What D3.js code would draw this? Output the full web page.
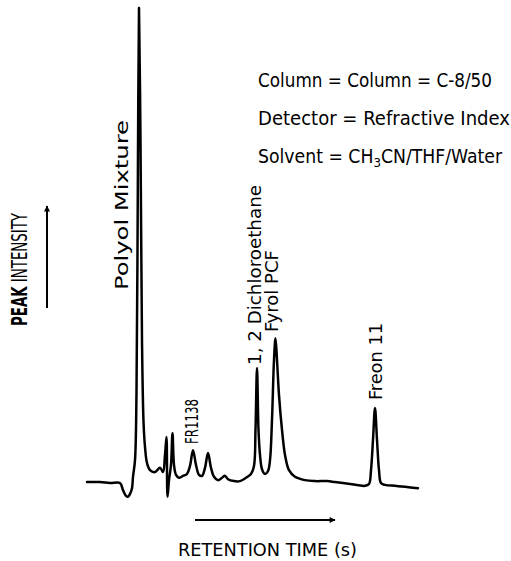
<!DOCTYPE html>
<html>
<head>
<meta charset="utf-8">
<script src="https://cdn.jsdelivr.net/npm/d3@7"></script>
<style>
  html, body { margin: 0; padding: 0; background: #fff; }
  svg { display: block; }
  text { font-family: "Liberation Sans Narrow", "DejaVu Sans Condensed", "Liberation Sans", sans-serif; fill: #000; }
</style>
</head>
<body>
<svg id="chart" width="511" height="561"></svg>
<script>
// Retention time (arbitrary units) and detector response (% of largest peak)
const times = [0, 1.3, 2.3, 3.3, 3.6, 3.9, 4.1, 4.3, 4.5, 4.6, 4.8, 4.95, 5.1, 5.2, 5.35, 5.5, 5.65, 5.8, 6.0, 6.3,
  6.8, 7.3, 7.6, 7.8, 7.95, 8.05, 8.2, 8.4, 8.55, 8.7, 8.9, 9.2, 9.6, 10.0, 10.3, 10.6, 10.9, 11.2, 11.5, 11.8,
  12.1, 12.4, 12.7, 13.1, 13.5, 13.8, 14.1, 14.7, 15.3, 15.9, 16.4, 16.7, 16.85, 17.0, 17.15, 17.3, 17.5, 17.8, 18.1, 18.3,
  18.5, 18.7, 18.85, 19.0, 19.2, 19.5, 19.8, 20.2, 20.8, 21.8, 22.8, 24.0, 24.8, 26.3, 27.8, 28.2, 28.4, 28.6, 28.8, 29.0,
  29.2, 29.4, 29.8, 30.8, 31.8, 33.1];
const intensity = [0.2, 0.2, 0, 0, -1.5, -2.7, -2.9, -2.3, -1.1, 1.3, 4.8, 19, 70, 100, 72, 30, 13, 7.6, 4.2, 2.7,
  2.3, 3.2, 2.3, 5.9, 9.7, -2.9, 0.6, 3.8, 10.5, 3.8, 1.7, 1.1, 1.5, 1.9, 3.6, 6.9, 3.8, 1.7, 1.5, 3.2,
  6.3, 3.2, 1.3, 0.6, 1.1, 1.5, 0.8, 0.4, 0.4, 1.1, 1.9, 3.6, 11.2, 24.2, 11.2, 5.9, 2.9, 1.9, 2.5, 4.8,
  13.3, 25.9, 30.5, 25.9, 18.5, 11.2, 5.9, 2.7, 1.3, 0.6, 0.4, 0.4, 0.2, -0.2, -0.6, -0.2, 2.7, 9.1, 15.8, 9.1,
  2.7, 0, -0.4, -0.6, -0.8, -1.1];

// Peak annotations and text
const peakNames = ["Polyol Mixture", "FR1138", "1, 2 Dichloroethane", "Fyrol PCF", "Freon 11"];
const conditions = ["Column = Column = C-8/50", "Detector = Refractive Index", "Solvent = CH3CN/THF/Water"];
const xTitle = "RETENTION TIME (s)";
const yTitleBold = "PEAK";
const yTitleRest = " INTENSITY";

const svg = d3.select("#chart");
const x = d3.scaleLinear().domain([0, 33]).range([87, 417]);
const y = d3.scaleLinear().domain([0, 100]).range([483, 8]);

const pts = times.map((t, i) => [t, intensity[i]]);
const line = d3.line().x(d => x(d[0])).y(d => y(d[1])).curve(d3.curveCatmullRom.alpha(0.5));

svg.append("path").datum(pts)
  .attr("d", line)
  .attr("fill", "none")
  .attr("stroke", "#000")
  .attr("stroke-width", 2.5)
  .attr("stroke-linejoin", "round")
  .attr("stroke-linecap", "round");

// rotated peak labels
const labelSpecs = [
  {name: peakNames[0], bx: 128, by: 290, len: 170},
  {name: peakNames[1], bx: 198, by: 444, len: 45},
  {name: peakNames[2], bx: 261, by: 365, len: 180},
  {name: peakNames[3], bx: 278, by: 332, len: 82},
  {name: peakNames[4], bx: 382, by: 400, len: 77}
];
svg.selectAll("text.peak").data(labelSpecs).enter().append("text")
  .attr("class", "peak")
  .attr("transform", d => `translate(${d.bx},${d.by}) rotate(-90)`)
  .attr("font-size", 18)
  .attr("textLength", d => d.len)
  .attr("lengthAdjust", "spacingAndGlyphs")
  .text(d => d.name);

// conditions block
const condLens = [234, 252, 244];
const cond = svg.append("g");
conditions.forEach((c, i) => {
  const t = cond.append("text")
    .attr("x", 258).attr("y", 87 + i * 38)
    .attr("font-size", 19)
    .attr("textLength", condLens[i])
    .attr("lengthAdjust", "spacingAndGlyphs");
  if (c.includes("CH3CN")) {
    const [a, b] = c.split("CH3CN");
    t.append("tspan").text(a + "CH");
    t.append("tspan").attr("dy", 4).attr("font-size", 13).text("3");
    t.append("tspan").attr("dy", -4).text("CN" + b);
  } else {
    t.text(c);
  }
});

// arrow marker
const defs = svg.append("defs");
defs.append("marker").attr("id", "ah")
  .attr("viewBox", "0 0 10 10").attr("refX", 9).attr("refY", 5)
  .attr("markerWidth", 14).attr("markerHeight", 6).attr("markerUnits", "userSpaceOnUse")
  .attr("orient", "auto")
  .append("path").attr("d", "M0,0 L10,5 L0,10 Z").attr("fill", "#000");

// y axis arrow + title
svg.append("line").attr("x1", 47).attr("y1", 308).attr("x2", 47).attr("y2", 206)
  .attr("stroke", "#000").attr("stroke-width", 2).attr("marker-end", "url(#ah)");
const yt = svg.append("text")
  .attr("transform", "translate(27,326) rotate(-90)")
  .attr("font-size", 21)
  .attr("textLength", 113).attr("lengthAdjust", "spacingAndGlyphs");
yt.append("tspan").attr("font-weight", "bold").text(yTitleBold);
yt.append("tspan").text(yTitleRest);

// x axis arrow + title
svg.append("line").attr("x1", 195).attr("y1", 520).attr("x2", 335).attr("y2", 520)
  .attr("stroke", "#000").attr("stroke-width", 2).attr("marker-end", "url(#ah)");
svg.append("text").attr("x", 178).attr("y", 556)
  .attr("font-size", 18)
  .attr("textLength", 179).attr("lengthAdjust", "spacingAndGlyphs")
  .text(xTitle);
</script>
</body>
</html>
